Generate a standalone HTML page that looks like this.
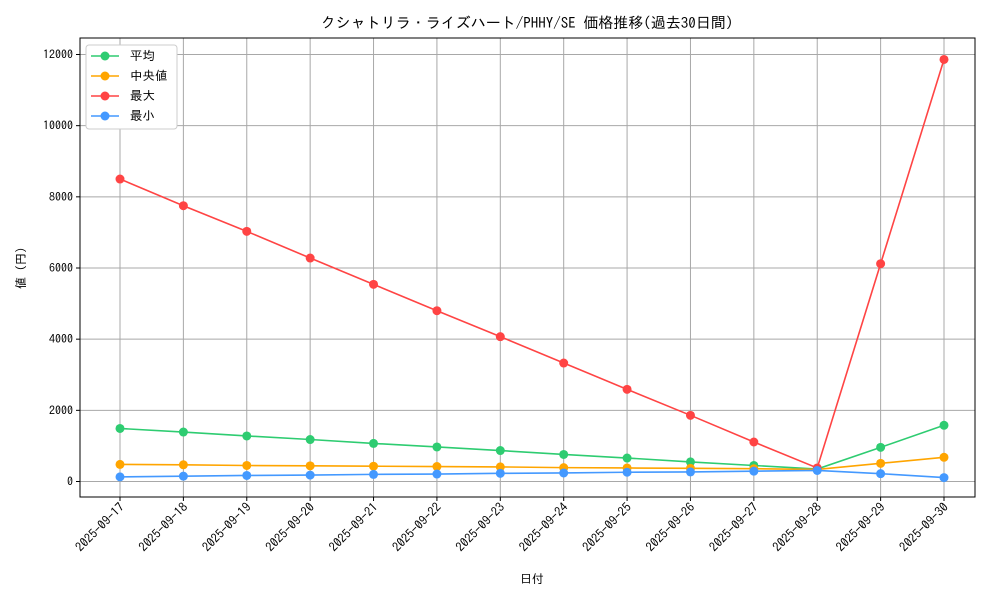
<!DOCTYPE html>
<html><head><meta charset="utf-8"><style>
body{margin:0;background:#fff;}
svg{font-family:"IPAGothic","Liberation Sans","Noto Sans CJK JP",sans-serif;}
</style></head><body>
<svg id="chart" width="1000" height="600" xmlns="http://www.w3.org/2000/svg">
<rect width="1000" height="600" fill="#fff"/>
<text x="527" y="28" font-size="15" text-anchor="middle">クシャトリラ・ライズハート/PHHY/SE 価格推移(過去30日間)</text>
<g id="grid"></g><g id="axes"></g><g id="series"></g>
<text x="532" y="583" font-size="12" text-anchor="middle">日付</text>
<text transform="translate(25,268) rotate(-90)" font-size="12" text-anchor="middle">値 (円)</text>
<g id="legend"></g>
</svg>
<script>
const dates=["2025-09-17","2025-09-18","2025-09-19","2025-09-20","2025-09-21","2025-09-22","2025-09-23","2025-09-24","2025-09-25","2025-09-26","2025-09-27","2025-09-28","2025-09-29","2025-09-30"];
const meanVals=[1490,1390,1280,1180,1070,970,870,760,660,550,450,350,960,1580];
const medianVals=[480,470,450,440,430,420,410,390,380,370,360,340,510,680];
const maxVals=[8500,7750,7030,6280,5540,4800,4070,3330,2590,1860,1110,380,6120,11860];
const minVals=[130,150,170,180,200,210,230,240,260,270,290,310,220,110];
const yTicks=[0,2000,4000,6000,8000,10000,12000];
const NS="http://www.w3.org/2000/svg";
const L=80,R=975,T=38,B=497;
const xs=i=>120+i*(944-120)/(dates.length-1);
const ys=v=>481.5-v*(481.5-54.5)/12000;
function mk(tag,attrs,parent){const e=document.createElementNS(NS,tag);for(const k in attrs)e.setAttribute(k,attrs[k]);parent.appendChild(e);return e;}
const grid=document.getElementById('grid'),axes=document.getElementById('axes'),ser=document.getElementById('series'),leg=document.getElementById('legend');
dates.forEach((d,i)=>{const x=xs(i);
 const g=mk('line',{x1:x,x2:x,y1:T,y2:B,stroke:'#a8a8a8','stroke-width':1},grid);
 
 
 mk('line',{x1:x,x2:x,y1:B,y2:B+4,stroke:'#000'},axes);
 const t=mk('text',{x:x+5,y:B+11,'font-size':12.5,'text-anchor':'end',transform:`rotate(-45 ${x+5} ${B+11})`},axes);
 t.textContent=d;
 
 
});
yTicks.forEach(v=>{const y=ys(v);
 const g=mk('line',{x1:L,x2:R,y1:y,y2:y,stroke:'#a8a8a8','stroke-width':1},grid);
 
 
 mk('line',{x1:L-4,x2:L,y1:y,y2:y,stroke:'#000'},axes);
 const t=mk('text',{x:L-7,y:y+4,'font-size':12,'text-anchor':'end'},axes);
 t.textContent=v;
 
 
});
const fr=mk('rect',{x:L,y:T,width:R-L,height:B-T,fill:'none',stroke:'#000','stroke-width':1},axes);


const series=[["平均",meanVals,"#2ecc71","mean"],["中央値",medianVals,"#ffa500","median"],["最大",maxVals,"#ff4444","max"],["最小",minVals,"#4499ff","min"]];
series.forEach(([name,vals,c,key])=>{
 const g=mk('g',{},ser);
 
 
 mk('polyline',{points:vals.map((v,i)=>xs(i)+','+ys(v)).join(' '),fill:'none',stroke:c,'stroke-width':1.6},g);
 vals.forEach((v,i)=>{const p=mk('circle',{cx:xs(i),cy:ys(v),r:4.5,fill:c},g);
  
  });
});
mk('rect',{x:86,y:45,width:91,height:84,rx:3,fill:'#fff',stroke:'#ccc'},leg);
series.forEach(([name,vals,c,key],i)=>{const y=56+i*20;
 const g=mk('g',{},leg);
 
 
 mk('line',{x1:91,x2:119,y1:y,y2:y,stroke:c,'stroke-width':1.6},g);
 mk('circle',{cx:105,cy:y,r:4.5,fill:c},g);
 const t=mk('text',{x:130,y:y+4,'font-size':12.5},g);t.textContent=name;
});
</script>
</body></html>
